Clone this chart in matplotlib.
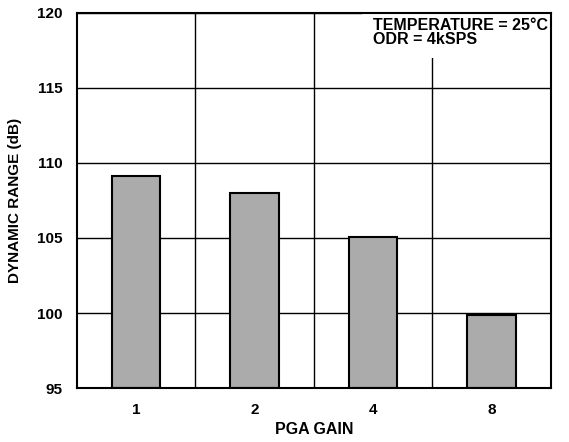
import numpy as np
import matplotlib.pyplot as plt
from matplotlib.ticker import FixedLocator

plt.rcParams['font.family'] = ['Liberation Sans', 'DejaVu Sans']
plt.rcParams['font.weight'] = 'bold'

# data
gains = ['1', '2', '4', '8']
dyn_range = [109.15, 108.0, 105.07, 99.9]
y_ticks = [95, 100, 105, 110, 115, 120]

fig = plt.figure(figsize=(5.69, 4.42), dpi=100)
ax = fig.add_axes([0.135, 0.122, 0.833, 0.849])

x = np.arange(len(gains))
ax.bar(x, np.array(dyn_range) - 95, bottom=95, width=0.41, color='#ababab',
       edgecolor='black', linewidth=1.5, zorder=3)

ax.set_xlim(-0.5, len(gains) - 0.5)
ax.set_ylim(95, 120)
ax.set_xticks(x)
ax.set_xticklabels(gains, fontsize=11, fontweight='bold')
ax.set_yticks(y_ticks)
ax.set_yticklabels([str(v) for v in y_ticks], fontsize=11, fontweight='bold')
ax.xaxis.set_minor_locator(FixedLocator(x[:-1] + 0.5))
ax.tick_params(axis='x', which='both', length=0, pad=11)
ax.tick_params(axis='y', which='both', length=0, pad=10)
ax.grid(True, axis='y', which='major', color='black', linewidth=1.0, zorder=1)
ax.grid(True, axis='x', which='minor', color='black', linewidth=1.0, zorder=1)
ax.set_axisbelow(True)
for s in ax.spines.values():
    s.set_linewidth(1.5)
    s.set_zorder(5)

ax.set_xlabel('PGA GAIN', fontsize=11.5, fontweight='bold', labelpad=3)
ax.set_ylabel('DYNAMIC RANGE (dB)', fontsize=11, fontweight='bold', labelpad=11)

ax.text(0.625, 0.986, 'TEMPERATURE = 25°C\nODR = 4kSPS', transform=ax.transAxes,
        fontsize=11.5, fontweight='bold', ha='left', va='top', linespacing=0.92,
        bbox=dict(facecolor='white', edgecolor='none', pad=8), zorder=4)

fig.savefig('out.png', dpi=100)
